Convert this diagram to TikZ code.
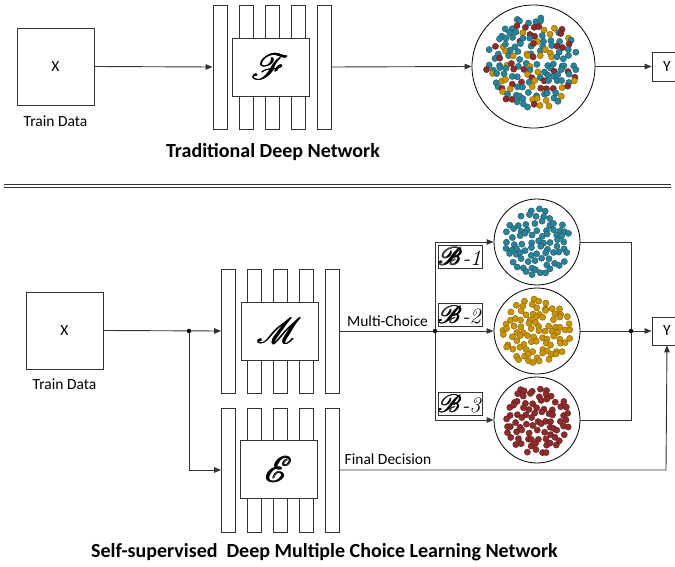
\documentclass[tikz,border=0pt]{standalone}
\usepackage{amsmath}
\usepackage{fontspec}
\setsansfont{Carlito}
\DeclareFontFamily{U}{rsfs}{\skewchar\font127 }
\DeclareFontShape{U}{rsfs}{m}{n}{<-6> rsfs5 <6-8> rsfs7 <8-> rsfs10}{}
\usepackage{mathrsfs}
\usetikzlibrary{arrows.meta,calc}
\definecolor{dc1}{HTML}{2A8398}
\definecolor{dc2}{HTML}{C99400}
\definecolor{dc3}{HTML}{8E2B2B}
\definecolor{ln}{HTML}{333333}
% jittered hexagonal grid of dots inside a disc
% #1 node, #2 radius, #3 spacing, #4 seed, #5 colour (or "mix")
\newcommand{\gridcloud}[5]{%
  \pgfmathsetseed{#4}
  \foreach \iy in {-9,...,9}{
    \foreach \ix in {-9,...,9}{
      \pgfmathsetmacro\px{\ix*#3 + 0.5*#3*abs(mod(\iy,2)) + 2.6*rand}
      \pgfmathsetmacro\py{\iy*#3*0.87 + 2.6*rand}
      \pgfmathsetmacro\cc{rnd}
      \pgfmathtruncatemacro\ins{veclen(\px,\py) < #2 ? 1 : 0}
      \ifnum\ins=1
        \def\tmpc{#5}\def\mixc{mix}%
        \ifx\tmpc\mixc
          \pgfmathtruncatemacro\k{\cc<0.55 ? 1 : (\cc<0.78 ? 2 : 3)}
          \filldraw[fill=dc\k, draw=dc\k!65!black, line width=0.4pt] ($(#1)+(\px,\py)$) circle (3.1pt);
        \else
          \filldraw[fill=#5, draw=#5!65!black, line width=0.4pt] ($(#1)+(\px,\py)$) circle (3.1pt);
        \fi
      \fi
    }}}
\newcommand{\scr}[1]{\pmb{\mathscr{#1}}}
\begin{document}
\begin{tikzpicture}[x=1pt,y=-1pt,
  every node/.style={font=\sffamily\fontsize{15.5}{18}\selectfont, text=black},
  conn/.style={draw=ln, line width=0.9pt},
  arr/.style={conn, -{Triangle[length=7pt,width=5.5pt]}},
  bar/.style={draw=ln, fill=white, line width=0.8pt, minimum width=14pt, minimum height=124pt, inner sep=0pt},
  netbox/.style={draw=ln, fill=white, line width=0.8pt, minimum width=77pt, minimum height=58pt, inner sep=0pt, font=\fontsize{36}{38}\selectfont},
  inbox/.style={draw=ln, fill=white, line width=0.8pt, minimum width=77pt, minimum height=77pt, inner sep=0pt},
  cloud/.style={draw=black, fill=white, line width=0.8pt, circle, inner sep=0pt},
  ybox/.style={draw=ln, fill=white, line width=0.8pt, minimum width=30pt, minimum height=28pt, inner sep=0pt},
  blabel/.style={draw=ln, fill=white, line width=0.8pt, minimum width=44pt, minimum height=23pt, inner sep=0pt, font=\fontsize{22}{22}\selectfont},
  title/.style={font=\sffamily\bfseries\fontsize{20}{24}\selectfont},
  jdot/.style={circle, fill=black, inner sep=0pt, minimum size=4.5pt}
]
\useasboundingbox (0,0) rectangle (675,567);

% ---------- top: traditional network ----------
\node[inbox] (tx) at (55.5,66.5) {X};
\node at (55.5,121) {Train Data};
\node[bar] (tb1) at (220,67) {};
\node[bar] (tb2) at (246,67) {};
\node[bar] (tb3) at (272,67) {};
\node[bar] (tb4) at (298,67) {};
\node[bar] (tb5) at (324,67) {};
\node[netbox] (tf) at (270.5,67) {$\scr{F}$};
\node[cloud, minimum size=123pt] (tc) at (533.5,66.5) {};
\coordinate (tcc) at (532,64);
\gridcloud{tcc}{47}{6.9}{11}{mix}
\node[ybox, minimum height=29pt] (ty) at (667,66.5) {Y};
\draw[arr] (tx.east) -- (tb1.west);
\draw[arr] (tb5.east) -- (tc.west);
\draw[arr] (tc.east) -- (ty.west);
\node[title] at (273,152) {Traditional Deep Network};

% ---------- separator ----------
\draw[ln, line width=1pt, double=white, double distance=2pt] (4,186) -- (671,186);

% ---------- bottom: multiple choice network ----------
\node[inbox] (bx) at (64.5,330.5) {X};
\node at (64.5,384) {Train Data};

\node[bar] (mb1) at (228.5,331) {};
\node[bar] (mb2) at (254,331) {};
\node[bar] (mb3) at (280,331) {};
\node[bar] (mb4) at (306,331) {};
\node[bar] (mb5) at (332.5,331) {};
\node[netbox] (mm) at (279.5,331) {$\scr{M}$};

\node[bar] (eb1) at (228.5,470) {};
\node[bar] (eb2) at (254,470) {};
\node[bar] (eb3) at (280,470) {};
\node[bar] (eb4) at (306,470) {};
\node[bar] (eb5) at (332.5,470) {};
\node[netbox] (ee) at (279,469.5) {$\scr{E}$};

\node[cloud, minimum size=86pt] (c1) at (537,242) {};
\node[cloud, minimum size=86pt] (c2) at (537,331) {};
\node[cloud, minimum size=86pt] (c3) at (537,420) {};
\gridcloud{c1}{34}{7.2}{3}{dc1}
\gridcloud{c2}{34.5}{7.0}{5}{dc2}
\gridcloud{c3}{34.5}{7.1}{9}{dc3}

\node[ybox] (by) at (667,331) {Y};

\coordinate (s1) at (189,331);
\coordinate (s1d) at (189,470);
\coordinate (s2) at (435,331);
\coordinate (s2u) at (435,242);
\coordinate (s2d) at (435,420);
\coordinate (s3) at (631,331);
\coordinate (s3u) at (631,242);
\coordinate (s3d) at (631,420);
\coordinate (fd) at (666,470);

\draw[arr] (bx.east) -- (mb1.west);
\draw[arr] (s1) -- (s1d) -- (eb1.west);
\draw[conn] (mb5.east) -- node[above=1pt, pos=0.5] {Multi-Choice} (s2);
\draw[conn] (s2u) -- (s2d);
\draw[arr] (s2u) -- (c1.west);
\draw[arr] (s2) -- (c2.west);
\draw[arr] (s2d) -- (c3.west);
\draw[conn] (c1.east) -- (s3u) -- (s3d) -- (c3.east);
\draw[conn] (c2.east) -- (s3);
\draw[arr] (s3) -- (by.west);
\draw[arr] (eb5.east) -- (fd) -- (by.south);
\node at (388,459) {Final Decision};

\node[blabel] (l1) at (460,256.5) {{\fontsize{25}{25}\selectfont$\scr{B}$}\textit{-1}};
\node[blabel] (l2) at (460,315) {{\fontsize{25}{25}\selectfont$\scr{B}$}\textit{-2}};
\node[blabel] (l3) at (460,404) {{\fontsize{25}{25}\selectfont$\scr{B}$}\textit{-3}};

\node[jdot] at (s1) {};
\node[jdot] at (s2) {};
\node[jdot] at (s3) {};

\node[title] at (324.5,552) {Self-supervised\ \ Deep Multiple Choice Learning Network};
\end{tikzpicture}
\end{document}
